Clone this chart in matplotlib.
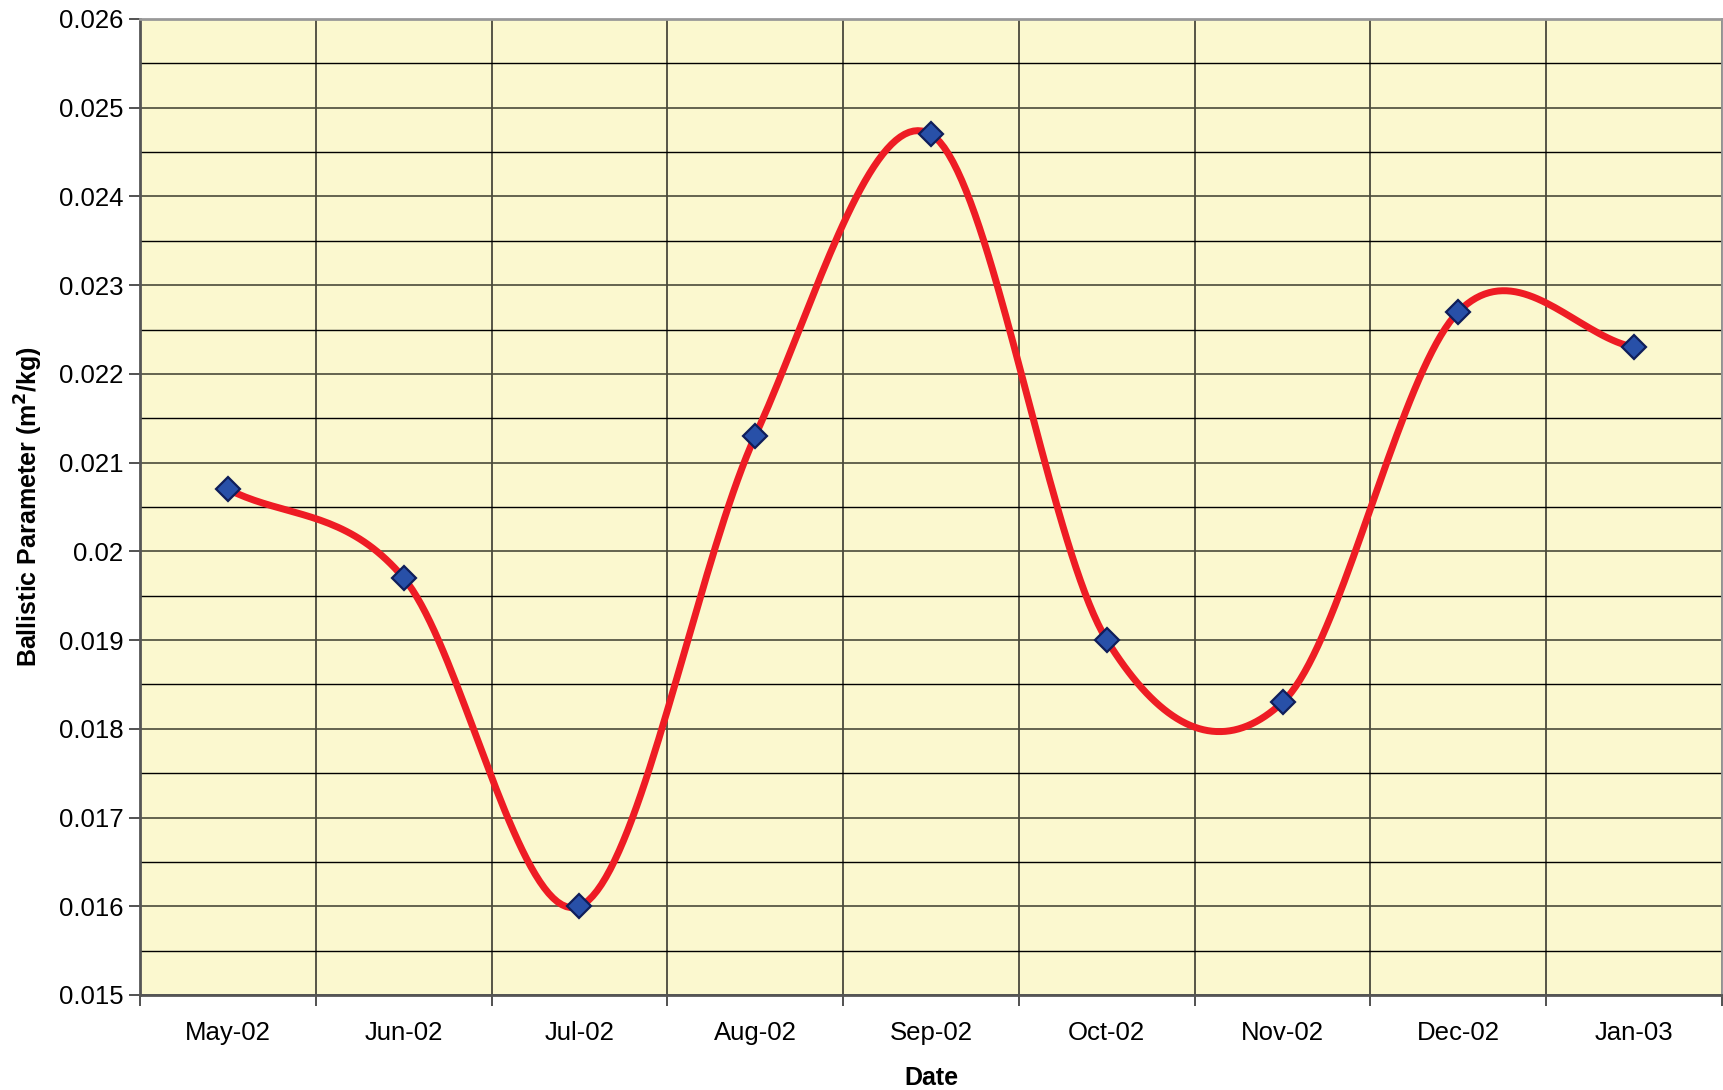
import numpy as np
import matplotlib
matplotlib.use("Agg")
import matplotlib.pyplot as plt
from matplotlib.ticker import MultipleLocator, FixedLocator

categories = ["May-02", "Jun-02", "Jul-02", "Aug-02", "Sep-02", "Oct-02", "Nov-02", "Dec-02", "Jan-03"]
values = [0.0207, 0.0197, 0.0160, 0.0213, 0.0247, 0.0190, 0.0183, 0.0227, 0.0223]

plt.rcParams['font.family'] = ['Liberation Sans', 'DejaVu Sans']

fig = plt.figure(figsize=(17.23, 10.90), dpi=100)
ax = fig.add_axes([140/1723, 1 - 995/1090, (1722-140)/1723, (995-19)/1090])
ax.set_facecolor('#FBF8CF')

x = np.arange(len(values))
y = np.array(values)

# Catmull-Rom smoothing (like Excel smoothed line)
def catmull_rom(xs, ys, n=40):
    px = np.concatenate([[2*xs[0]-xs[1]], xs, [2*xs[-1]-xs[-2]]])
    py = np.concatenate([[2*ys[0]-ys[1]], ys, [2*ys[-1]-ys[-2]]])
    ox, oy = [], []
    for i in range(1, len(px)-2):
        t = np.linspace(0, 1, n, endpoint=False)
        for arr, out in ((px, ox), (py, oy)):
            p0, p1, p2, p3 = arr[i-1], arr[i], arr[i+1], arr[i+2]
            out.extend(0.5*((2*p1) + (-p0+p2)*t + (2*p0-5*p1+4*p2-p3)*t**2 + (-p0+3*p1-3*p2+p3)*t**3))
    ox.append(xs[-1]); oy.append(ys[-1])
    return np.array(ox), np.array(oy)

sx, sy = catmull_rom(x.astype(float), y)
ax.plot(sx, sy, color='#EE1C24', lw=5, solid_capstyle='round', zorder=3)
ax.plot(x, y, linestyle='none', marker='D', markersize=12.5,
        markerfacecolor='#2850A8', markeredgecolor='#0F1E5A', markeredgewidth=1.6, zorder=4)

ax.set_xlim(-0.5, len(values)-0.5)
ax.set_ylim(0.015, 0.026)
yt = np.arange(0.015, 0.02601, 0.001)
ax.yaxis.set_minor_locator(MultipleLocator(0.0005))
ax.set_yticks(yt)
labels = []
for v in yt:
    s = "%.3f" % v
    if s.endswith('0'):
        s = s.rstrip('0')
    labels.append(s)
ax.set_yticklabels(labels)
ax.set_xticks(x)
ax.set_xticklabels(categories)
ax.xaxis.set_minor_locator(FixedLocator(np.arange(-0.5, len(values), 1.0)))

ax.grid(which='major', axis='y', color='#4a4a3a', lw=1.2)
ax.grid(which='minor', axis='y', color='#000000', lw=1.0)
ax.grid(which='minor', axis='x', color='#3a3a30', lw=1.2)
ax.set_axisbelow(True)

ax.tick_params(axis='x', which='major', length=0, labelsize=18.5, pad=19)
ax.tick_params(axis='x', which='minor', length=8, width=1.2, color='#333333')
ax.tick_params(axis='y', which='major', length=8, width=1.2, color='#333333', labelsize=18.5, pad=4)
ax.tick_params(axis='y', which='minor', length=0)

for s in ['top', 'right']:
    ax.spines[s].set_color('#999999')
    ax.spines[s].set_linewidth(2)
for s in ['left', 'bottom']:
    ax.spines[s].set_color('#555555')
    ax.spines[s].set_linewidth(2)

ax.set_xlabel('Date', fontsize=18, fontweight='bold', labelpad=15)
ax.set_ylabel('Ballistic Parameter (m$^{\\mathbf{2}}$/kg)', fontsize=18, fontweight='bold', labelpad=10)

fig.savefig('out.png', dpi=100)
